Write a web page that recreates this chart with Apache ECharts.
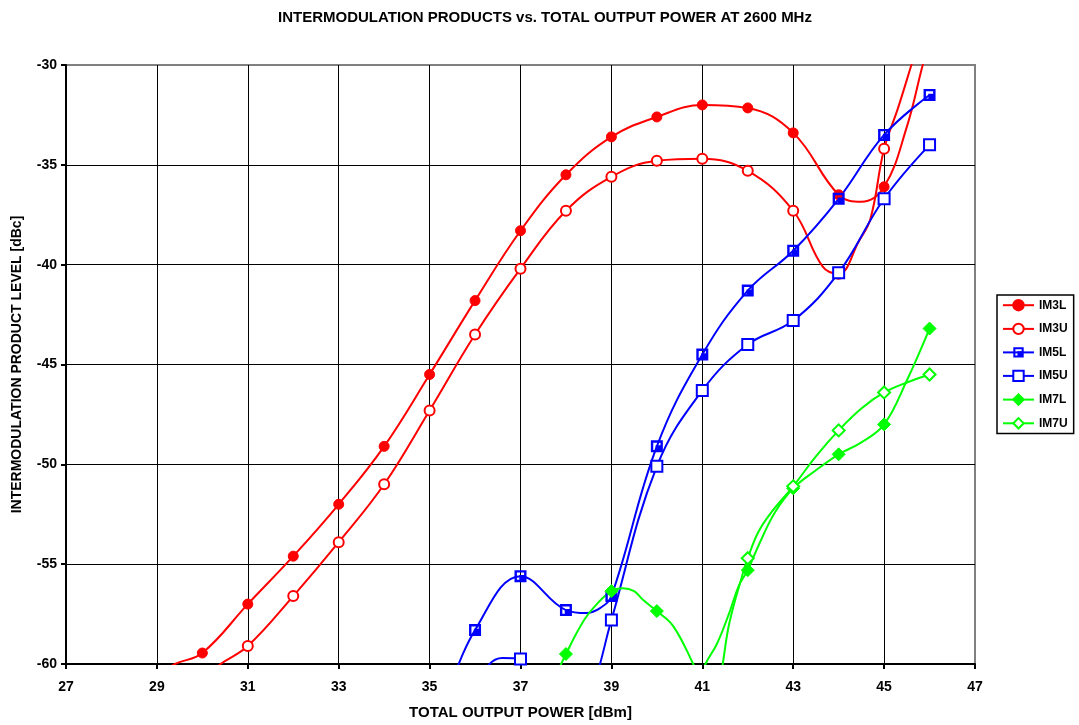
<!DOCTYPE html>
<html>
<head>
<meta charset="utf-8">
<script src="https://cdn.jsdelivr.net/npm/echarts@6/dist/echarts.min.js"></script>
<style>
  html, body { margin: 0; padding: 0; background: #fff; }
  #chart { width: 1079px; height: 725px; }
</style>
</head>
<body>
<div id="chart"></div>
<script>
// ----------------------
// DATA  [output power dBm, level dBc]
// markers sit on whole dBm steps, the rest just shapes the curve
// ----------------------
const im3l = [
  [28.9, -60.7], [29.4, -60.0], [30, -59.45], [31, -57], [32, -54.6], [33, -52],
  [34, -49.1], [35, -45.5], [36, -41.8], [37, -38.3], [38, -35.5], [39, -33.6],
  [40, -32.6], [41, -32], [42, -32.15], [43, -33.4], [44, -36.5], [44.5, -36.85],
  [45, -36.1], [45.5, -33.1], [45.85, -30], [46.1, -28]
];
const im3u = [
  [29.9, -60.9], [30.4, -60], [31, -59.1], [32, -56.6], [33, -53.9], [34, -51],
  [35, -47.3], [36, -43.5], [37, -40.2], [38, -37.3], [39, -35.6], [40, -34.8],
  [41, -34.7], [42, -35.3], [43, -37.3], [43.65, -40.1], [44, -40.45], [44.45, -38.8],
  [44.7, -37.7], [45, -34.2], [45.3, -32.2], [45.6, -30], [45.8, -28.5]
];
const im5l = [
  [35.4, -61.5], [36, -58.3], [37, -55.6], [38, -57.3], [38.45, -57.45], [38.75, -57.2],
  [39, -56.6], [40, -49.1], [41, -44.5], [42, -41.3], [43, -39.3], [44, -36.7],
  [45, -33.5], [46, -31.5]
];
const im5u = [
  [36.1, -61.0], [36.3, -60.05], [36.6, -59.7], [37, -59.75], [37.15, -60.5],
  [37.4, -62], [38.5, -62], [38.75, -60], [39, -57.8], [40, -50.1], [41, -46.3],
  [42, -44], [43, -42.8], [44, -40.4], [45, -36.7], [46, -34]
];
const im7l = [
  [37.7, -61], [38, -59.5], [38.4, -57.8], [38.7, -56.95], [39, -56.35], [39.25, -56.2],
  [39.5, -56.35], [39.7, -56.8], [40, -57.35], [40.36, -58.1], [40.8, -60], [40.95, -60.8],
  [41.07, -60], [41.32, -59.0], [41.6, -57.4], [41.8, -56.1], [42, -55.3], [42.27, -53.9],
  [42.6, -52.4], [43, -51.2], [43.5, -50.3], [44, -49.5], [44.5, -48.9], [45, -48.0],
  [45.5, -45.8], [46, -43.2]
];
const im7u = [
  [41.35, -61.5], [41.45, -60], [41.6, -57.9], [41.9, -55.4], [42, -54.7], [42.23, -53.4],
  [42.52, -52.4], [43, -51.1], [43.5, -49.6], [44, -48.3], [44.5, -47.2], [45, -46.4],
  [45.5, -45.9], [46, -45.5]
];

const FONT = "'Liberation Sans', Arial, sans-serif";
const RED = "#ff0000";
const BLUE = "#0000ff";
const GREEN = "#00ff00";

// square outline with the lower right part filled (IM5L marker)
const halfSquare = "path://M0,0H10V10H0Z M2,2V8H8V2Z M4,4H8V8H4Z";

// only whole dBm steps get a marker
function toData(points) {
  return points.map((p) => (Number.isInteger(p[0]) ? p : { value: p, symbol: "none" }));
}

function makeSeries(name, points, color, shape, size, border) {
  return {
    name: name,
    type: "line",
    data: toData(points),
    smooth: 0.4,
    clip: true,
    symbol: shape,
    symbolSize: size,
    lineStyle: { color: color, width: 2 },
    itemStyle: { color: color, borderColor: color, borderWidth: border },
    emphasis: { disabled: true },
  };
}

const chart = echarts.init(document.getElementById("chart"));

chart.setOption({
  animation: false,
  backgroundColor: "#fff",
  title: {
    text: "INTERMODULATION PRODUCTS vs. TOTAL OUTPUT POWER AT 2600 MHz",
    left: 540,
    top: 5,
    textAlign: "center",
    textStyle: { fontFamily: FONT, fontSize: 15, fontWeight: "bold", color: "#000" },
  },
  grid: {
    left: 66,
    right: 104,
    top: 65,
    bottom: 61,
    show: true,
    borderColor: "#808080",
    borderWidth: 2,
    outerBoundsMode: "none",
  },
  legend: {
    left: 997,
    top: 295,
    orient: "vertical",
    itemWidth: 31,
    itemHeight: 13,
    itemGap: 11.3,
    padding: [4, 6, 4, 5],
    borderColor: "#000",
    borderWidth: 1.5,
    textStyle: { fontFamily: FONT, fontSize: 12, fontWeight: "bold", color: "#000" },
    data: ["IM3L", "IM3U", "IM5L", "IM5U", "IM7L", "IM7U"],
  },
  xAxis: {
    type: "value",
    min: 27,
    max: 47,
    interval: 2,
    name: "TOTAL OUTPUT POWER [dBm]",
    nameLocation: "middle",
    nameGap: 41,
    nameTextStyle: { fontFamily: FONT, fontSize: 15, fontWeight: "bold", color: "#000" },
    axisLine: { onZero: false, lineStyle: { color: "#000", width: 2 } },
    axisTick: { show: true, inside: false, length: 5, lineStyle: { color: "#000", width: 2 } },
    axisLabel: { margin: 16, fontFamily: FONT, fontSize: 14, fontWeight: "bold", color: "#000" },
    splitLine: { show: true, showMinLine: false, showMaxLine: false, lineStyle: { color: "#000", width: 1 } },
  },
  yAxis: {
    type: "value",
    min: -60,
    max: -30,
    interval: 5,
    name: "INTERMODULATION PRODUCT LEVEL [dBc]",
    nameLocation: "middle",
    nameGap: 42,
    nameTextStyle: { fontFamily: FONT, fontSize: 14, fontWeight: "bold", color: "#000" },
    axisLine: { onZero: false, lineStyle: { color: "#000", width: 2 } },
    axisTick: { show: true, inside: false, length: 5, lineStyle: { color: "#000", width: 2 } },
    axisLabel: { margin: 9, fontFamily: FONT, fontSize: 14, fontWeight: "bold", color: "#000" },
    splitLine: { show: true, showMinLine: false, showMaxLine: false, lineStyle: { color: "#000", width: 1 } },
  },
  series: [
    makeSeries("IM3L", im3l, RED, "circle", 10, 1),
    makeSeries("IM3U", im3u, RED, "emptyCircle", 10, 1.5),
    makeSeries("IM5L", im5l, BLUE, halfSquare, 12, 0),
    makeSeries("IM5U", im5u, BLUE, "emptyRect", 11, 2),
    makeSeries("IM7L", im7l, GREEN, "diamond", 13, 1),
    makeSeries("IM7U", im7u, GREEN, "emptyDiamond", 12, 2),
  ],
});
</script>
</body>
</html>
